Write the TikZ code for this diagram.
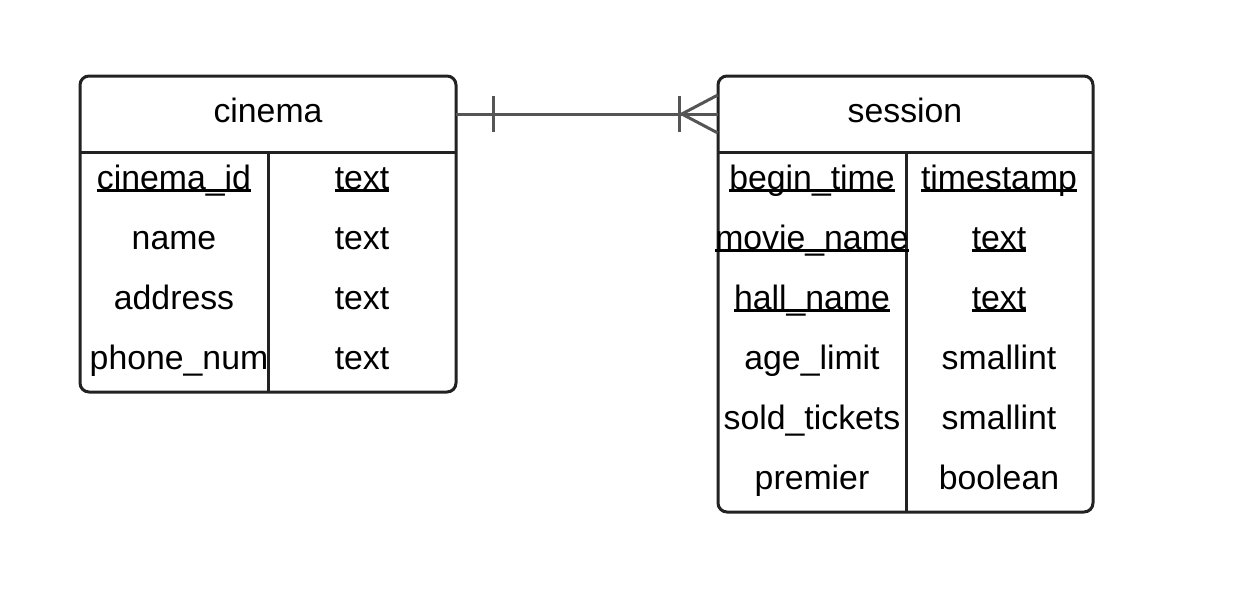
\documentclass[tikz,border=0pt]{standalone}
\usepackage{fontspec}
\setmainfont{Liberation Sans}
\definecolor{boxc}{HTML}{222222}
\definecolor{linkc}{HTML}{555555}
\newcommand\keyu[1]{\leavevmode\setbox0\hbox{#1}\rlap{\rule[-0.075em]{\wd0}{0.065em}}\box0}
\begin{document}
\begin{tikzpicture}[x=1pt,y=-1pt,
  tbl/.style={draw=boxc, line width=3pt, rounded corners=9pt, inner sep=0pt},
  hdr/.style={inner sep=0pt, minimum height=76pt},
  sep/.style={draw=boxc, line width=3pt},
  cell/.style={inner sep=0pt, anchor=base, font=\fontsize{33.8}{40}\selectfont, text=black},
  link/.style={draw=linkc, line width=3pt}]
\useasboundingbox (0,0) rectangle (1245,600);
% cinema table
\node[tbl, minimum width=376pt, minimum height=316pt] (cinema) at (268,234) {};
\node[hdr, minimum width=376pt] (cinemaH) at (268,114) {};
\draw[sep] (80,152) -- (456,152);
\draw[sep] (268,152) -- (268,392);
\node[cell] (ct) at (268,122) {cinema};
\node[cell] (c1a) at (174,189) {\keyu{cinema\_id}};
\node[cell] (c1b) at (362,189) {\keyu{text}};
\node[cell] (c2a) at (174,249) {name};
\node[cell] (c2b) at (362,249) {text};
\node[cell] (c3a) at (174,309) {address};
\node[cell] (c3b) at (362,309) {text};
\node[cell] (c4a) at (179,369) {phone\_num};
\node[cell] (c4b) at (362,369) {text};
% session table
\node[tbl, minimum width=375pt, minimum height=436pt] (session) at (905.5,294) {};
\node[hdr, minimum width=375pt] (sessionH) at (905.5,114) {};
\draw[sep] (718,152) -- (1093,152);
\draw[sep] (906,152) -- (906,512);
\node[cell] (st) at (905,122) {session};
\node[cell] (s1a) at (812,189) {\keyu{begin\_time}};
\node[cell] (s1b) at (999,189) {\keyu{timestamp}};
\node[cell] (s2a) at (812,249) {\keyu{movie\_name}};
\node[cell] (s2b) at (999,249) {\keyu{text}};
\node[cell] (s3a) at (812,309) {\keyu{hall\_name}};
\node[cell] (s3b) at (999,309) {\keyu{text}};
\node[cell] (s4a) at (812,369) {age\_limit};
\node[cell] (s4b) at (999,369) {smallint};
\node[cell] (s5a) at (812,429) {sold\_tickets};
\node[cell] (s5b) at (999,429) {smallint};
\node[cell] (s6a) at (812,489) {premier};
\node[cell] (s6b) at (999,489) {boolean};
% relationship
\draw[link] (cinemaH.east) -- (sessionH.west);
\draw[link] ([xshift=37pt]cinemaH.east) ++(0,-18) -- ++(0,36);
\draw[link] ([xshift=-38pt]sessionH.west) ++(0,-18) -- ++(0,36);
\draw[link] (sessionH.west) ++(0,-19) -- ([xshift=-36pt]sessionH.west) -- ++(36,19);
\end{tikzpicture}
\end{document}
